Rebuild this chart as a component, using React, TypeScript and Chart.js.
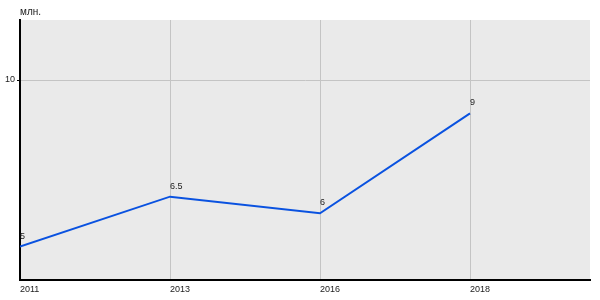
import React, { useEffect, useRef } from "react";
import { Chart, registerables } from "chart.js";

Chart.register(...registerables);

const years = ["2011", "2013", "2016", "2018"];
const values = [5, 6.5, 6, 9];
const valueLabels = ["5", "6.5", "6", "9"];
const yTickValues = [10];
const unitLabel = "млн.";

const FONT = "Arial, 'Liberation Sans', sans-serif";

export default function App() {
  const ref = useRef<HTMLCanvasElement | null>(null);

  useEffect(() => {
    const canvas = ref.current;
    if (!canvas) return;

    const bgPlugin = {
      id: "bgPlugin",
      beforeDraw(chart: any) {
        const { ctx, chartArea } = chart;
        ctx.save();
        ctx.fillStyle = "#eaeaea";
        ctx.fillRect(chartArea.left, chartArea.top, chartArea.right - chartArea.left, chartArea.bottom - chartArea.top);
        ctx.restore();
      },
      afterDraw(chart: any) {
        const { ctx, chartArea } = chart;
        ctx.save();
        ctx.fillStyle = "#222";
        ctx.textAlign = "left";
        ctx.textBaseline = "alphabetic";
        ctx.font = `10px ${FONT}`;
        ctx.fillText(unitLabel, chartArea.left, 15);
        ctx.font = `9px ${FONT}`;
        const meta = chart.getDatasetMeta(0);
        meta.data.forEach((pt: any, i: number) => {
          ctx.fillText(valueLabels[i], pt.x, pt.y - 8);
        });
        ctx.restore();
      },
    };

    const chart = new Chart(canvas, {
      type: "line",
      data: {
        datasets: [
          {
            data: values.map((v, i) => ({ x: i, y: v })),
            borderColor: "#0a52e0",
            borderWidth: 2,
            pointRadius: 0,
            tension: 0,
            fill: false,
          },
        ],
      },
      options: {
        animation: false,
        responsive: false,
        layout: { padding: { top: 20, right: 10, left: 0, bottom: 0 } },
        plugins: { legend: { display: false }, tooltip: { enabled: false } },
        scales: {
          x: {
            type: "linear",
            min: 0,
            max: 3.8,
            afterBuildTicks: (scale: any) => {
              scale.ticks = years.map((_, i) => ({ value: i }));
            },
            afterFit: (scale: any) => {
              scale.height = 20;
            },
            ticks: {
              align: "start",
              padding: 4,
              maxRotation: 0,
              autoSkip: false,
              color: "#222",
              font: { size: 9, family: FONT },
              callback: (v: any) => years[v] ?? "",
            },
            grid: { color: "#c4c4c4", lineWidth: 1, drawTicks: false },
            border: { color: "#000", width: 2 },
          },
          y: {
            min: 4,
            max: 11.8,
            afterBuildTicks: (scale: any) => {
              scale.ticks = yTickValues.map((v) => ({ value: v }));
            },
            afterFit: (scale: any) => {
              scale.width = 20;
            },
            ticks: {
              padding: 2,
              color: "#222",
              font: { size: 9, family: FONT },
            },
            grid: { color: "#c4c4c4", lineWidth: 1, tickLength: 3, tickColor: "#000" },
            border: { color: "#000", width: 2 },
          },
        },
      },
      plugins: [bgPlugin],
    } as any);

    return () => chart.destroy();
  }, []);

  return (
    <div style={{ position: "fixed", left: 0, top: 0, width: 600, height: 300, background: "#fff" }}>
      <canvas ref={ref} width={600} height={300} style={{ display: "block" }} />
    </div>
  );
}
